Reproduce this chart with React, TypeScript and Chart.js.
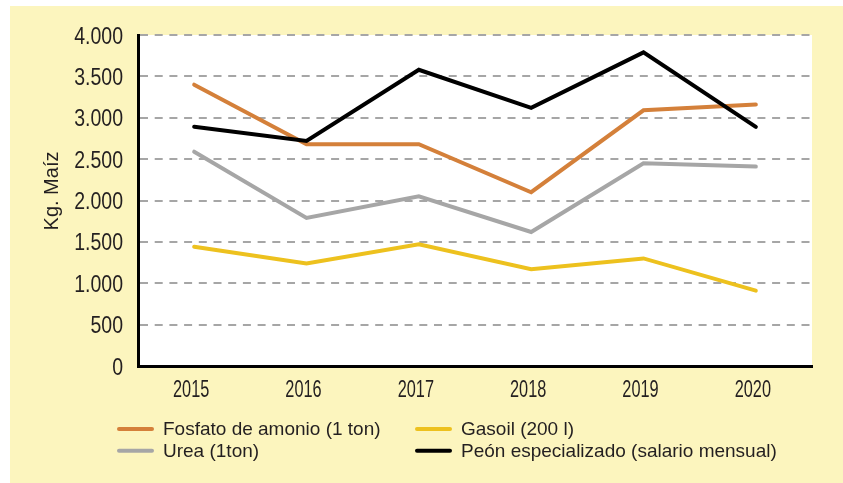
import React, { useEffect, useRef } from 'react';
import { Chart, registerables } from 'chart.js';

Chart.register(...registerables);

const years = ['2015', '2016', '2017', '2018', '2019', '2020'];
const fosfato = [3400, 2680, 2680, 2100, 3090, 3160];
const urea = [2590, 1790, 2050, 1620, 2450, 2410];
const gasoil = [1440, 1240, 1470, 1170, 1300, 910];
const peon = [2890, 2720, 3580, 3120, 3790, 2890];
const seriesLabels = [
  'Fosfato de amonio (1 ton)',
  'Urea (1ton)',
  'Gasoil (200 l)',
  'Peón especializado (salario mensual)',
];
const seriesColors = ['#D4803A', '#A6A6A6', '#EDC11E', '#000000'];
const yAxisTitle = 'Kg. Maíz';
const yMin = 0;
const yMax = 4000;
const yStep = 500;

const TEXT = '#231F20';
const REGULAR = '"Liberation Sans", Arial, sans-serif';

function fmt(v: number): string {
  return String(v).replace(/\B(?=(\d{3})+(?!\d))/g, '.');
}

const decor = {
  id: 'decor',
  beforeDraw(chart: any) {
    const { ctx, chartArea: a } = chart;
    ctx.save();
    ctx.fillStyle = '#FFFFFF';
    ctx.fillRect(a.left, a.top, a.right - a.left, a.bottom - a.top);
    ctx.restore();
  },
  afterDraw(chart: any) {
    const { ctx, chartArea: a } = chart;

    // y tick labels (condensed)
    const ys = chart.scales.y;
    ys.ticks.forEach((t: any) => {
      const py = ys.getPixelForValue(t.value);
      ctx.save();
      ctx.fillStyle = TEXT;
      ctx.font = '23.5px ' + REGULAR;
      ctx.textAlign = 'right';
      ctx.textBaseline = 'alphabetic';
      ctx.translate(a.left - 15, py + 8.5);
      ctx.scale(0.83, 1);
      ctx.fillText(fmt(t.value), 0, 0);
      ctx.restore();
    });

    // x tick labels (condensed)
    const xs = chart.scales.x;
    years.forEach((lab, i) => {
      const px = xs.getPixelForTick(i);
      ctx.save();
      ctx.fillStyle = TEXT;
      ctx.font = '24px ' + REGULAR;
      ctx.textAlign = 'center';
      ctx.textBaseline = 'alphabetic';
      ctx.translate(px - 3, a.bottom + 30.7);
      ctx.scale(0.68, 1);
      ctx.fillText(lab, 0, 0);
      ctx.restore();
    });

    // axis title
    ctx.save();
    ctx.translate(a.left - 86, (a.top + a.bottom) / 2 - 9.5);
    ctx.rotate(-Math.PI / 2);
    ctx.font = '20px ' + REGULAR;
    ctx.fillStyle = TEXT;
    ctx.textAlign = 'center';
    ctx.textBaseline = 'middle';
    ctx.fillText(yAxisTitle, 0, 0);
    ctx.restore();

    // legend (2 columns)
    chart.data.datasets.forEach((ds: any, i: number) => {
      const col = Math.floor(i / 2);
      const row = i % 2;
      const x = a.left - 21 + col * 298;
      const y = a.bottom + 63 + row * 21.7;
      ctx.save();
      ctx.strokeStyle = ds.borderColor;
      ctx.lineWidth = 4;
      ctx.lineCap = 'round';
      ctx.beginPath();
      ctx.moveTo(x + 2, y);
      ctx.lineTo(x + 35, y);
      ctx.stroke();
      ctx.font = '19px ' + REGULAR;
      ctx.fillStyle = TEXT;
      ctx.textAlign = 'left';
      ctx.textBaseline = 'middle';
      ctx.fillText(ds.label, x + 46, y + 1);
      ctx.restore();
    });
  },
};

export default function App() {
  const ref = useRef<HTMLCanvasElement | null>(null);
  useEffect(() => {
    if (!ref.current) return;
    const series = [fosfato, urea, gasoil, peon];
    const chart = new Chart(ref.current, {
      type: 'line',
      data: {
        labels: years,
        datasets: series.map((d, i) => ({
          label: seriesLabels[i],
          data: d,
          borderColor: seriesColors[i],
          backgroundColor: seriesColors[i],
          borderWidth: 4,
          pointRadius: 0,
          pointHoverRadius: 0,
          tension: 0,
          borderCapStyle: 'round',
          borderJoinStyle: 'miter',
          fill: false,
          order: i === 3 ? 0 : 1,
        })),
      },
      options: {
        responsive: false,
        animation: false,
        devicePixelRatio: 1,
        layout: { padding: { top: 29, right: 31, left: 0, bottom: 0 } },
        plugins: {
          legend: { display: false },
          tooltip: { enabled: false },
          title: { display: false },
        },
        scales: {
          x: {
            offset: true,
            grid: { display: false, drawTicks: false },
            border: { display: true, color: '#000', width: 3 },
            ticks: { display: false },
            afterFit(scale: any) {
              scale.height = 117;
            },
          },
          y: {
            min: yMin,
            max: yMax,
            grid: {
              color: '#A6A6A6',
              lineWidth: 2,
              drawTicks: false,
            },
            border: { display: true, color: '#000', width: 3, dash: [8, 6.7], dashOffset: 0 },
            ticks: {
              display: false,
              stepSize: yStep,
            },
            afterFit(scale: any) {
              scale.width = 128;
            },
          },
        },
      },
      plugins: [decor],
    } as any);
    return () => chart.destroy();
  }, []);
  return (
    <div
      style={{
        position: 'absolute',
        left: 10,
        top: 6,
        width: 833,
        height: 477,
        background: '#FCF5BE',
      }}
    >
      <canvas ref={ref} width={833} height={477} style={{ display: 'block' }} />
    </div>
  );
}
